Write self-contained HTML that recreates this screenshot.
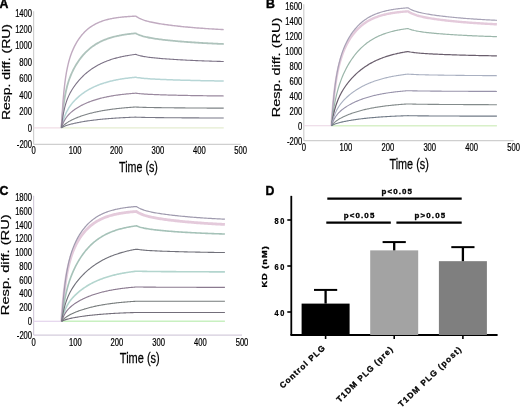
<!DOCTYPE html>
<html><head><meta charset="utf-8"><style>
html,body{margin:0;padding:0;background:#fff;}
svg{display:block;font-family:"Liberation Sans",sans-serif;will-change:transform;}
</style></head><body>
<svg width="520" height="407" viewBox="0 0 520 407">
<rect width="520" height="407" fill="#fff"/>
<line x1="33.60" y1="11.25" x2="33.60" y2="144.35" stroke="#cfcfcf" stroke-width="1.2"/>
<line x1="33.60" y1="144.35" x2="240.70" y2="144.35" stroke="#cfcfcf" stroke-width="1.2"/>
<text transform="translate(32.10,148.14) scale(0.742,1)" font-size="10.3" text-anchor="end" font-weight="normal" stroke="#000" stroke-width="0.22" fill="#000">-200</text>
<text transform="translate(32.10,131.69) scale(0.742,1)" font-size="10.3" text-anchor="end" font-weight="normal" stroke="#000" stroke-width="0.22" fill="#000">0</text>
<text transform="translate(32.10,115.24) scale(0.742,1)" font-size="10.3" text-anchor="end" font-weight="normal" stroke="#000" stroke-width="0.22" fill="#000">200</text>
<text transform="translate(32.10,98.79) scale(0.742,1)" font-size="10.3" text-anchor="end" font-weight="normal" stroke="#000" stroke-width="0.22" fill="#000">400</text>
<text transform="translate(32.10,82.34) scale(0.742,1)" font-size="10.3" text-anchor="end" font-weight="normal" stroke="#000" stroke-width="0.22" fill="#000">600</text>
<text transform="translate(32.10,65.89) scale(0.742,1)" font-size="10.3" text-anchor="end" font-weight="normal" stroke="#000" stroke-width="0.22" fill="#000">800</text>
<text transform="translate(32.10,49.44) scale(0.742,1)" font-size="10.3" text-anchor="end" font-weight="normal" stroke="#000" stroke-width="0.22" fill="#000">1000</text>
<text transform="translate(32.10,32.99) scale(0.742,1)" font-size="10.3" text-anchor="end" font-weight="normal" stroke="#000" stroke-width="0.22" fill="#000">1200</text>
<text transform="translate(32.10,16.54) scale(0.742,1)" font-size="10.3" text-anchor="end" font-weight="normal" stroke="#000" stroke-width="0.22" fill="#000">1400</text>
<text transform="translate(33.60,154.20) scale(0.742,1)" font-size="10.3" text-anchor="middle" font-weight="normal" stroke="#000" stroke-width="0.22" fill="#000">0</text>
<text transform="translate(75.02,154.20) scale(0.742,1)" font-size="10.3" text-anchor="middle" font-weight="normal" stroke="#000" stroke-width="0.22" fill="#000">100</text>
<text transform="translate(116.44,154.20) scale(0.742,1)" font-size="10.3" text-anchor="middle" font-weight="normal" stroke="#000" stroke-width="0.22" fill="#000">200</text>
<text transform="translate(157.86,154.20) scale(0.742,1)" font-size="10.3" text-anchor="middle" font-weight="normal" stroke="#000" stroke-width="0.22" fill="#000">300</text>
<text transform="translate(199.28,154.20) scale(0.742,1)" font-size="10.3" text-anchor="middle" font-weight="normal" stroke="#000" stroke-width="0.22" fill="#000">400</text>
<text transform="translate(240.70,154.20) scale(0.742,1)" font-size="10.3" text-anchor="middle" font-weight="normal" stroke="#000" stroke-width="0.22" fill="#000">500</text>
<text transform="translate(138.50,171.60) scale(0.775,1)" font-size="13.8" text-anchor="middle" font-weight="normal" stroke="#000" stroke-width="0.25" fill="#000">Time (s)</text>
<text transform="translate(9.80,120.10) scale(0.765,1) rotate(-90)" font-size="14.0" text-anchor="start" font-weight="normal" stroke="#000" stroke-width="0.25" fill="#000">Resp. diff. (RU)</text>
<line x1="33.60" y1="127.90" x2="61.39" y2="127.90" stroke="#f0dce4" stroke-width="1.2"/>
<line x1="61.39" y1="127.90" x2="223.72" y2="127.90" stroke="#e4ecd0" stroke-width="1.4"/>
<path d="M61.39,127.90 L61.39,127.90 L62.22,117.78 L63.04,109.70 L63.87,103.15 L64.70,97.76 L65.52,93.25 L66.35,89.41 L67.17,86.09 L68.00,83.17 L68.82,80.57 L69.65,78.22 L70.47,76.07 L71.30,74.09 L72.13,72.25 L72.95,70.52 L73.78,68.90 L74.60,67.37 L75.43,65.91 L76.25,64.52 L77.08,63.20 L77.91,61.94 L78.73,60.73 L79.56,59.57 L80.38,58.47 L81.21,57.40 L82.03,56.38 L82.86,55.41 L83.69,54.47 L84.51,53.56 L85.34,52.70 L86.16,51.87 L86.99,51.07 L87.81,50.30 L88.64,49.56 L89.46,48.85 L90.29,48.17 L91.12,47.52 L91.94,46.89 L92.77,46.29 L93.59,45.71 L94.42,45.15 L95.24,44.61 L96.07,44.10 L96.90,43.61 L97.72,43.13 L98.55,42.67 L99.37,42.23 L100.20,41.81 L101.02,41.41 L101.85,41.02 L102.67,40.64 L103.50,40.28 L104.33,39.94 L105.15,39.61 L105.98,39.29 L106.80,38.98 L107.63,38.69 L108.45,38.40 L109.28,38.13 L110.11,37.87 L110.93,37.62 L111.76,37.38 L112.58,37.15 L113.41,36.92 L114.23,36.71 L115.06,36.50 L115.88,36.31 L116.71,36.12 L117.54,35.93 L118.36,35.76 L119.19,35.59 L120.01,35.43 L120.84,35.27 L121.66,35.12 L122.49,34.98 L123.32,34.84 L124.14,34.71 L124.97,34.58 L125.79,34.46 L126.62,34.34 L127.44,34.23 L128.27,34.12 L129.10,34.01 L129.92,33.91 L130.75,33.82 L131.57,33.72 L132.40,33.64 L133.22,33.55 L134.05,33.47 L134.87,33.39 L135.70,33.31 L136.96,33.97 L138.22,34.54 L139.47,35.06 L140.73,35.51 L141.99,35.93 L143.24,36.30 L144.50,36.64 L145.76,36.95 L147.02,37.23 L148.27,37.50 L149.53,37.75 L150.79,37.98 L152.05,38.20 L153.30,38.41 L154.56,38.60 L155.82,38.79 L157.08,38.97 L158.33,39.14 L159.59,39.31 L160.85,39.47 L162.11,39.62 L163.36,39.77 L164.62,39.92 L165.88,40.06 L167.14,40.20 L168.39,40.33 L169.65,40.46 L170.91,40.59 L172.16,40.71 L173.42,40.83 L174.68,40.95 L175.94,41.07 L177.19,41.18 L178.45,41.29 L179.71,41.40 L180.97,41.50 L182.22,41.60 L183.48,41.70 L184.74,41.80 L186.00,41.90 L187.25,41.99 L188.51,42.09 L189.77,42.18 L191.03,42.26 L192.28,42.35 L193.54,42.43 L194.80,42.52 L196.06,42.60 L197.31,42.68 L198.57,42.76 L199.83,42.83 L201.08,42.91 L202.34,42.98 L203.60,43.05 L204.86,43.12 L206.11,43.19 L207.37,43.25 L208.63,43.32 L209.89,43.38 L211.14,43.45 L212.40,43.51 L213.66,43.57 L214.92,43.63 L216.17,43.68 L217.43,43.74 L218.69,43.80 L219.95,43.85 L221.20,43.90 L222.46,43.95 L223.72,44.00" fill="none" stroke="#aec3bc" stroke-width="1.8" stroke-linejoin="round"/>
<path d="M61.39,127.90 L61.39,127.90 L62.22,124.31 L63.04,121.24 L63.87,118.59 L64.70,116.28 L65.52,114.24 L66.35,112.42 L67.17,110.78 L68.00,109.29 L68.82,107.92 L69.65,106.66 L70.47,105.49 L71.30,104.39 L72.13,103.35 L72.95,102.37 L73.78,101.44 L74.60,100.55 L75.43,99.70 L76.25,98.88 L77.08,98.10 L77.91,97.35 L78.73,96.63 L79.56,95.93 L80.38,95.26 L81.21,94.61 L82.03,93.98 L82.86,93.38 L83.69,92.79 L84.51,92.22 L85.34,91.68 L86.16,91.14 L86.99,90.63 L87.81,90.13 L88.64,89.65 L89.46,89.19 L90.29,88.74 L91.12,88.30 L91.94,87.87 L92.77,87.47 L93.59,87.07 L94.42,86.68 L95.24,86.31 L96.07,85.95 L96.90,85.60 L97.72,85.26 L98.55,84.94 L99.37,84.62 L100.20,84.31 L101.02,84.01 L101.85,83.72 L102.67,83.45 L103.50,83.18 L104.33,82.91 L105.15,82.66 L105.98,82.41 L106.80,82.18 L107.63,81.94 L108.45,81.72 L109.28,81.50 L110.11,81.30 L110.93,81.09 L111.76,80.90 L112.58,80.71 L113.41,80.52 L114.23,80.34 L115.06,80.17 L115.88,80.00 L116.71,79.84 L117.54,79.68 L118.36,79.53 L119.19,79.38 L120.01,79.24 L120.84,79.10 L121.66,78.97 L122.49,78.84 L123.32,78.71 L124.14,78.59 L124.97,78.47 L125.79,78.36 L126.62,78.25 L127.44,78.14 L128.27,78.03 L129.10,77.93 L129.92,77.84 L130.75,77.74 L131.57,77.65 L132.40,77.56 L133.22,77.48 L134.05,77.39 L134.87,77.31 L135.70,77.23 L136.96,77.47 L138.22,77.67 L139.47,77.85 L140.73,78.01 L141.99,78.16 L143.24,78.29 L144.50,78.41 L145.76,78.52 L147.02,78.62 L148.27,78.72 L149.53,78.80 L150.79,78.89 L152.05,78.96 L153.30,79.04 L154.56,79.11 L155.82,79.17 L157.08,79.24 L158.33,79.30 L159.59,79.36 L160.85,79.41 L162.11,79.47 L163.36,79.52 L164.62,79.57 L165.88,79.62 L167.14,79.67 L168.39,79.72 L169.65,79.76 L170.91,79.81 L172.16,79.85 L173.42,79.90 L174.68,79.94 L175.94,79.98 L177.19,80.02 L178.45,80.06 L179.71,80.09 L180.97,80.13 L182.22,80.17 L183.48,80.20 L184.74,80.24 L186.00,80.27 L187.25,80.31 L188.51,80.34 L189.77,80.37 L191.03,80.40 L192.28,80.43 L193.54,80.46 L194.80,80.49 L196.06,80.52 L197.31,80.55 L198.57,80.58 L199.83,80.60 L201.08,80.63 L202.34,80.65 L203.60,80.68 L204.86,80.70 L206.11,80.73 L207.37,80.75 L208.63,80.78 L209.89,80.80 L211.14,80.82 L212.40,80.84 L213.66,80.86 L214.92,80.88 L216.17,80.90 L217.43,80.92 L218.69,80.94 L219.95,80.96 L221.20,80.98 L222.46,81.00 L223.72,81.02" fill="none" stroke="#b7d6d6" stroke-width="1.5" stroke-linejoin="round"/>
<path d="M61.39,127.90 L61.39,127.90 L62.22,112.98 L63.04,101.23 L63.87,91.86 L64.70,84.29 L65.52,78.09 L66.35,72.92 L67.17,68.55 L68.00,64.80 L68.82,61.53 L69.65,58.65 L70.47,56.07 L71.30,53.74 L72.13,51.61 L72.95,49.65 L73.78,47.84 L74.60,46.16 L75.43,44.58 L76.25,43.10 L77.08,41.71 L77.91,40.40 L78.73,39.16 L79.56,37.98 L80.38,36.87 L81.21,35.81 L82.03,34.81 L82.86,33.86 L83.69,32.96 L84.51,32.10 L85.34,31.28 L86.16,30.51 L86.99,29.77 L87.81,29.07 L88.64,28.40 L89.46,27.77 L90.29,27.16 L91.12,26.59 L91.94,26.04 L92.77,25.52 L93.59,25.03 L94.42,24.56 L95.24,24.11 L96.07,23.69 L96.90,23.28 L97.72,22.90 L98.55,22.53 L99.37,22.18 L100.20,21.85 L101.02,21.54 L101.85,21.24 L102.67,20.95 L103.50,20.68 L104.33,20.42 L105.15,20.17 L105.98,19.94 L106.80,19.72 L107.63,19.51 L108.45,19.30 L109.28,19.11 L110.11,18.93 L110.93,18.76 L111.76,18.59 L112.58,18.43 L113.41,18.28 L114.23,18.14 L115.06,18.01 L115.88,17.88 L116.71,17.76 L117.54,17.64 L118.36,17.53 L119.19,17.42 L120.01,17.32 L120.84,17.23 L121.66,17.14 L122.49,17.05 L123.32,16.97 L124.14,16.89 L124.97,16.82 L125.79,16.75 L126.62,16.68 L127.44,16.61 L128.27,16.55 L129.10,16.50 L129.92,16.44 L130.75,16.39 L131.57,16.34 L132.40,16.29 L133.22,16.25 L134.05,16.20 L134.87,16.16 L135.70,16.12 L136.96,16.95 L138.22,17.68 L139.47,18.32 L140.73,18.90 L141.99,19.42 L143.24,19.89 L144.50,20.32 L145.76,20.71 L147.02,21.07 L148.27,21.40 L149.53,21.72 L150.79,22.01 L152.05,22.29 L153.30,22.55 L154.56,22.80 L155.82,23.03 L157.08,23.26 L158.33,23.48 L159.59,23.69 L160.85,23.89 L162.11,24.09 L163.36,24.27 L164.62,24.46 L165.88,24.64 L167.14,24.81 L168.39,24.98 L169.65,25.14 L170.91,25.30 L172.16,25.46 L173.42,25.61 L174.68,25.76 L175.94,25.90 L177.19,26.05 L178.45,26.19 L179.71,26.32 L180.97,26.45 L182.22,26.58 L183.48,26.71 L184.74,26.83 L186.00,26.96 L187.25,27.07 L188.51,27.19 L189.77,27.30 L191.03,27.42 L192.28,27.52 L193.54,27.63 L194.80,27.73 L196.06,27.84 L197.31,27.94 L198.57,28.03 L199.83,28.13 L201.08,28.22 L202.34,28.32 L203.60,28.41 L204.86,28.49 L206.11,28.58 L207.37,28.66 L208.63,28.75 L209.89,28.83 L211.14,28.91 L212.40,28.98 L213.66,29.06 L214.92,29.13 L216.17,29.21 L217.43,29.28 L218.69,29.35 L219.95,29.42 L221.20,29.48 L222.46,29.55 L223.72,29.61" fill="none" stroke="#c0aac0" stroke-width="1.4" stroke-linejoin="round"/>
<path d="M61.39,127.90 L61.39,127.90 L62.22,125.47 L63.04,123.40 L63.87,121.62 L64.70,120.07 L65.52,118.70 L66.35,117.49 L67.17,116.39 L68.00,115.40 L68.82,114.49 L69.65,113.64 L70.47,112.86 L71.30,112.12 L72.13,111.43 L72.95,110.78 L73.78,110.15 L74.60,109.56 L75.43,108.99 L76.25,108.44 L77.08,107.91 L77.91,107.41 L78.73,106.92 L79.56,106.45 L80.38,105.99 L81.21,105.55 L82.03,105.12 L82.86,104.71 L83.69,104.31 L84.51,103.92 L85.34,103.54 L86.16,103.18 L86.99,102.82 L87.81,102.48 L88.64,102.15 L89.46,101.82 L90.29,101.51 L91.12,101.21 L91.94,100.91 L92.77,100.63 L93.59,100.35 L94.42,100.08 L95.24,99.82 L96.07,99.56 L96.90,99.32 L97.72,99.08 L98.55,98.85 L99.37,98.62 L100.20,98.40 L101.02,98.19 L101.85,97.98 L102.67,97.78 L103.50,97.59 L104.33,97.40 L105.15,97.22 L105.98,97.04 L106.80,96.87 L107.63,96.70 L108.45,96.54 L109.28,96.38 L110.11,96.23 L110.93,96.08 L111.76,95.94 L112.58,95.80 L113.41,95.66 L114.23,95.53 L115.06,95.40 L115.88,95.28 L116.71,95.16 L117.54,95.04 L118.36,94.93 L119.19,94.82 L120.01,94.71 L120.84,94.61 L121.66,94.51 L122.49,94.41 L123.32,94.32 L124.14,94.23 L124.97,94.14 L125.79,94.05 L126.62,93.97 L127.44,93.88 L128.27,93.81 L129.10,93.73 L129.92,93.65 L130.75,93.58 L131.57,93.51 L132.40,93.44 L133.22,93.38 L134.05,93.31 L134.87,93.25 L135.70,93.19 L136.96,93.36 L138.22,93.51 L139.47,93.65 L140.73,93.77 L141.99,93.87 L143.24,93.97 L144.50,94.06 L145.76,94.14 L147.02,94.22 L148.27,94.29 L149.53,94.35 L150.79,94.41 L152.05,94.47 L153.30,94.52 L154.56,94.57 L155.82,94.62 L157.08,94.67 L158.33,94.72 L159.59,94.76 L160.85,94.80 L162.11,94.84 L163.36,94.88 L164.62,94.92 L165.88,94.96 L167.14,94.99 L168.39,95.03 L169.65,95.06 L170.91,95.09 L172.16,95.13 L173.42,95.16 L174.68,95.19 L175.94,95.22 L177.19,95.25 L178.45,95.28 L179.71,95.30 L180.97,95.33 L182.22,95.36 L183.48,95.39 L184.74,95.41 L186.00,95.44 L187.25,95.46 L188.51,95.49 L189.77,95.51 L191.03,95.53 L192.28,95.55 L193.54,95.58 L194.80,95.60 L196.06,95.62 L197.31,95.64 L198.57,95.66 L199.83,95.68 L201.08,95.70 L202.34,95.72 L203.60,95.74 L204.86,95.76 L206.11,95.77 L207.37,95.79 L208.63,95.81 L209.89,95.82 L211.14,95.84 L212.40,95.86 L213.66,95.87 L214.92,95.89 L216.17,95.90 L217.43,95.92 L218.69,95.93 L219.95,95.95 L221.20,95.96 L222.46,95.97 L223.72,95.99" fill="none" stroke="#9a899f" stroke-width="1.2" stroke-linejoin="round"/>
<path d="M61.39,127.90 L61.39,127.90 L62.22,121.13 L63.04,115.70 L63.87,111.27 L64.70,107.61 L65.52,104.52 L66.35,101.86 L67.17,99.54 L68.00,97.49 L68.82,95.63 L69.65,93.94 L70.47,92.37 L71.30,90.92 L72.13,89.55 L72.95,88.25 L73.78,87.02 L74.60,85.84 L75.43,84.71 L76.25,83.63 L77.08,82.59 L77.91,81.59 L78.73,80.62 L79.56,79.69 L80.38,78.78 L81.21,77.91 L82.03,77.06 L82.86,76.25 L83.69,75.46 L84.51,74.69 L85.34,73.95 L86.16,73.23 L86.99,72.54 L87.81,71.86 L88.64,71.21 L89.46,70.58 L90.29,69.97 L91.12,69.38 L91.94,68.80 L92.77,68.25 L93.59,67.71 L94.42,67.19 L95.24,66.68 L96.07,66.19 L96.90,65.72 L97.72,65.26 L98.55,64.82 L99.37,64.39 L100.20,63.97 L101.02,63.56 L101.85,63.17 L102.67,62.79 L103.50,62.43 L104.33,62.07 L105.15,61.73 L105.98,61.39 L106.80,61.07 L107.63,60.76 L108.45,60.46 L109.28,60.16 L110.11,59.88 L110.93,59.60 L111.76,59.34 L112.58,59.08 L113.41,58.83 L114.23,58.58 L115.06,58.35 L115.88,58.12 L116.71,57.90 L117.54,57.69 L118.36,57.48 L119.19,57.28 L120.01,57.09 L120.84,56.90 L121.66,56.72 L122.49,56.54 L123.32,56.37 L124.14,56.21 L124.97,56.05 L125.79,55.89 L126.62,55.74 L127.44,55.59 L128.27,55.45 L129.10,55.32 L129.92,55.19 L130.75,55.06 L131.57,54.93 L132.40,54.81 L133.22,54.70 L134.05,54.58 L134.87,54.47 L135.70,54.37 L136.96,54.81 L138.22,55.19 L139.47,55.54 L140.73,55.84 L141.99,56.12 L143.24,56.37 L144.50,56.59 L145.76,56.80 L147.02,56.99 L148.27,57.17 L149.53,57.34 L150.79,57.49 L152.05,57.64 L153.30,57.78 L154.56,57.91 L155.82,58.03 L157.08,58.16 L158.33,58.27 L159.59,58.38 L160.85,58.49 L162.11,58.59 L163.36,58.69 L164.62,58.79 L165.88,58.88 L167.14,58.98 L168.39,59.07 L169.65,59.15 L170.91,59.24 L172.16,59.32 L173.42,59.40 L174.68,59.48 L175.94,59.56 L177.19,59.63 L178.45,59.71 L179.71,59.78 L180.97,59.85 L182.22,59.92 L183.48,59.99 L184.74,60.05 L186.00,60.12 L187.25,60.18 L188.51,60.24 L189.77,60.30 L191.03,60.36 L192.28,60.42 L193.54,60.47 L194.80,60.53 L196.06,60.58 L197.31,60.64 L198.57,60.69 L199.83,60.74 L201.08,60.79 L202.34,60.84 L203.60,60.88 L204.86,60.93 L206.11,60.98 L207.37,61.02 L208.63,61.07 L209.89,61.11 L211.14,61.15 L212.40,61.19 L213.66,61.23 L214.92,61.27 L216.17,61.31 L217.43,61.35 L218.69,61.38 L219.95,61.42 L221.20,61.46 L222.46,61.49 L223.72,61.52" fill="none" stroke="#7d7387" stroke-width="1.1" stroke-linejoin="round"/>
<path d="M61.39,127.90 L61.39,127.90 L62.22,126.89 L63.04,125.99 L63.87,125.19 L64.70,124.46 L65.52,123.80 L66.35,123.19 L67.17,122.62 L68.00,122.09 L68.82,121.59 L69.65,121.12 L70.47,120.67 L71.30,120.23 L72.13,119.82 L72.95,119.42 L73.78,119.04 L74.60,118.67 L75.43,118.31 L76.25,117.96 L77.08,117.62 L77.91,117.30 L78.73,116.98 L79.56,116.67 L80.38,116.37 L81.21,116.08 L82.03,115.79 L82.86,115.52 L83.69,115.25 L84.51,114.98 L85.34,114.73 L86.16,114.48 L86.99,114.24 L87.81,114.00 L88.64,113.77 L89.46,113.55 L90.29,113.33 L91.12,113.11 L91.94,112.91 L92.77,112.70 L93.59,112.51 L94.42,112.32 L95.24,112.13 L96.07,111.95 L96.90,111.77 L97.72,111.60 L98.55,111.43 L99.37,111.26 L100.20,111.10 L101.02,110.95 L101.85,110.80 L102.67,110.65 L103.50,110.50 L104.33,110.36 L105.15,110.23 L105.98,110.09 L106.80,109.96 L107.63,109.84 L108.45,109.71 L109.28,109.59 L110.11,109.47 L110.93,109.36 L111.76,109.25 L112.58,109.14 L113.41,109.03 L114.23,108.93 L115.06,108.83 L115.88,108.73 L116.71,108.64 L117.54,108.55 L118.36,108.45 L119.19,108.37 L120.01,108.28 L120.84,108.20 L121.66,108.12 L122.49,108.04 L123.32,107.96 L124.14,107.88 L124.97,107.81 L125.79,107.74 L126.62,107.67 L127.44,107.60 L128.27,107.53 L129.10,107.47 L129.92,107.41 L130.75,107.34 L131.57,107.29 L132.40,107.23 L133.22,107.17 L134.05,107.11 L134.87,107.06 L135.70,107.01 L136.96,107.08 L138.22,107.14 L139.47,107.20 L140.73,107.25 L141.99,107.29 L143.24,107.33 L144.50,107.37 L145.76,107.40 L147.02,107.43 L148.27,107.46 L149.53,107.49 L150.79,107.51 L152.05,107.53 L153.30,107.56 L154.56,107.58 L155.82,107.60 L157.08,107.62 L158.33,107.64 L159.59,107.65 L160.85,107.67 L162.11,107.69 L163.36,107.70 L164.62,107.72 L165.88,107.74 L167.14,107.75 L168.39,107.76 L169.65,107.78 L170.91,107.79 L172.16,107.81 L173.42,107.82 L174.68,107.83 L175.94,107.84 L177.19,107.86 L178.45,107.87 L179.71,107.88 L180.97,107.89 L182.22,107.90 L183.48,107.91 L184.74,107.92 L186.00,107.93 L187.25,107.94 L188.51,107.95 L189.77,107.96 L191.03,107.97 L192.28,107.98 L193.54,107.99 L194.80,108.00 L196.06,108.01 L197.31,108.02 L198.57,108.03 L199.83,108.03 L201.08,108.04 L202.34,108.05 L203.60,108.06 L204.86,108.06 L206.11,108.07 L207.37,108.08 L208.63,108.09 L209.89,108.09 L211.14,108.10 L212.40,108.11 L213.66,108.11 L214.92,108.12 L216.17,108.13 L217.43,108.13 L218.69,108.14 L219.95,108.14 L221.20,108.15 L222.46,108.15 L223.72,108.16" fill="none" stroke="#7e8386" stroke-width="1.1" stroke-linejoin="round"/>
<path d="M61.39,127.90 L61.39,127.90 L62.22,127.39 L63.04,126.94 L63.87,126.53 L64.70,126.17 L65.52,125.84 L66.35,125.54 L67.17,125.25 L68.00,124.99 L68.82,124.74 L69.65,124.50 L70.47,124.28 L71.30,124.06 L72.13,123.86 L72.95,123.66 L73.78,123.47 L74.60,123.28 L75.43,123.10 L76.25,122.92 L77.08,122.75 L77.91,122.59 L78.73,122.43 L79.56,122.27 L80.38,122.12 L81.21,121.97 L82.03,121.83 L82.86,121.68 L83.69,121.55 L84.51,121.41 L85.34,121.28 L86.16,121.15 L86.99,121.03 L87.81,120.90 L88.64,120.79 L89.46,120.67 L90.29,120.56 L91.12,120.45 L91.94,120.34 L92.77,120.23 L93.59,120.13 L94.42,120.03 L95.24,119.93 L96.07,119.83 L96.90,119.74 L97.72,119.65 L98.55,119.56 L99.37,119.47 L100.20,119.39 L101.02,119.30 L101.85,119.22 L102.67,119.14 L103.50,119.06 L104.33,118.99 L105.15,118.92 L105.98,118.84 L106.80,118.77 L107.63,118.70 L108.45,118.64 L109.28,118.57 L110.11,118.51 L110.93,118.45 L111.76,118.38 L112.58,118.33 L113.41,118.27 L114.23,118.21 L115.06,118.15 L115.88,118.10 L116.71,118.05 L117.54,118.00 L118.36,117.95 L119.19,117.90 L120.01,117.85 L120.84,117.80 L121.66,117.76 L122.49,117.71 L123.32,117.67 L124.14,117.63 L124.97,117.58 L125.79,117.54 L126.62,117.50 L127.44,117.47 L128.27,117.43 L129.10,117.39 L129.92,117.35 L130.75,117.32 L131.57,117.29 L132.40,117.25 L133.22,117.22 L134.05,117.19 L134.87,117.16 L135.70,117.13 L136.96,117.18 L138.22,117.23 L139.47,117.27 L140.73,117.31 L141.99,117.35 L143.24,117.38 L144.50,117.41 L145.76,117.43 L147.02,117.46 L148.27,117.48 L149.53,117.50 L150.79,117.52 L152.05,117.54 L153.30,117.56 L154.56,117.57 L155.82,117.59 L157.08,117.60 L158.33,117.62 L159.59,117.63 L160.85,117.65 L162.11,117.66 L163.36,117.67 L164.62,117.68 L165.88,117.70 L167.14,117.71 L168.39,117.72 L169.65,117.73 L170.91,117.74 L172.16,117.75 L173.42,117.76 L174.68,117.77 L175.94,117.78 L177.19,117.79 L178.45,117.80 L179.71,117.81 L180.97,117.82 L182.22,117.83 L183.48,117.84 L184.74,117.84 L186.00,117.85 L187.25,117.86 L188.51,117.87 L189.77,117.88 L191.03,117.88 L192.28,117.89 L193.54,117.90 L194.80,117.90 L196.06,117.91 L197.31,117.92 L198.57,117.92 L199.83,117.93 L201.08,117.94 L202.34,117.94 L203.60,117.95 L204.86,117.96 L206.11,117.96 L207.37,117.97 L208.63,117.97 L209.89,117.98 L211.14,117.98 L212.40,117.99 L213.66,117.99 L214.92,118.00 L216.17,118.00 L217.43,118.01 L218.69,118.01 L219.95,118.02 L221.20,118.02 L222.46,118.03 L223.72,118.03" fill="none" stroke="#797987" stroke-width="1.1" stroke-linejoin="round"/>
<line x1="303.80" y1="4.20" x2="303.80" y2="140.70" stroke="#cfcfcf" stroke-width="1.2"/>
<line x1="303.80" y1="140.70" x2="513.70" y2="140.70" stroke="#cfcfcf" stroke-width="1.2"/>
<text transform="translate(302.30,144.79) scale(0.742,1)" font-size="10.3" text-anchor="end" font-weight="normal" stroke="#000" stroke-width="0.22" fill="#000">-200</text>
<text transform="translate(302.30,129.79) scale(0.742,1)" font-size="10.3" text-anchor="end" font-weight="normal" stroke="#000" stroke-width="0.22" fill="#000">0</text>
<text transform="translate(302.30,114.79) scale(0.742,1)" font-size="10.3" text-anchor="end" font-weight="normal" stroke="#000" stroke-width="0.22" fill="#000">200</text>
<text transform="translate(302.30,99.79) scale(0.742,1)" font-size="10.3" text-anchor="end" font-weight="normal" stroke="#000" stroke-width="0.22" fill="#000">400</text>
<text transform="translate(302.30,84.79) scale(0.742,1)" font-size="10.3" text-anchor="end" font-weight="normal" stroke="#000" stroke-width="0.22" fill="#000">600</text>
<text transform="translate(302.30,69.79) scale(0.742,1)" font-size="10.3" text-anchor="end" font-weight="normal" stroke="#000" stroke-width="0.22" fill="#000">800</text>
<text transform="translate(302.30,54.79) scale(0.742,1)" font-size="10.3" text-anchor="end" font-weight="normal" stroke="#000" stroke-width="0.22" fill="#000">1000</text>
<text transform="translate(302.30,39.79) scale(0.742,1)" font-size="10.3" text-anchor="end" font-weight="normal" stroke="#000" stroke-width="0.22" fill="#000">1200</text>
<text transform="translate(302.30,24.79) scale(0.742,1)" font-size="10.3" text-anchor="end" font-weight="normal" stroke="#000" stroke-width="0.22" fill="#000">1400</text>
<text transform="translate(302.30,9.79) scale(0.742,1)" font-size="10.3" text-anchor="end" font-weight="normal" stroke="#000" stroke-width="0.22" fill="#000">1600</text>
<text transform="translate(303.80,151.00) scale(0.742,1)" font-size="10.3" text-anchor="middle" font-weight="normal" stroke="#000" stroke-width="0.22" fill="#000">0</text>
<text transform="translate(345.78,151.00) scale(0.742,1)" font-size="10.3" text-anchor="middle" font-weight="normal" stroke="#000" stroke-width="0.22" fill="#000">100</text>
<text transform="translate(387.76,151.00) scale(0.742,1)" font-size="10.3" text-anchor="middle" font-weight="normal" stroke="#000" stroke-width="0.22" fill="#000">200</text>
<text transform="translate(429.74,151.00) scale(0.742,1)" font-size="10.3" text-anchor="middle" font-weight="normal" stroke="#000" stroke-width="0.22" fill="#000">300</text>
<text transform="translate(471.72,151.00) scale(0.742,1)" font-size="10.3" text-anchor="middle" font-weight="normal" stroke="#000" stroke-width="0.22" fill="#000">400</text>
<text transform="translate(513.70,151.00) scale(0.742,1)" font-size="10.3" text-anchor="middle" font-weight="normal" stroke="#000" stroke-width="0.22" fill="#000">500</text>
<text transform="translate(409.10,169.20) scale(0.775,1)" font-size="14" text-anchor="middle" font-weight="normal" stroke="#000" stroke-width="0.25" fill="#000">Time (s)</text>
<text transform="translate(279.50,117.30) scale(0.700,1) rotate(-90)" font-size="14.49" text-anchor="start" font-weight="normal" stroke="#000" stroke-width="0.25" fill="#000">Resp. diff. (RU)</text>
<line x1="303.80" y1="125.70" x2="331.51" y2="125.70" stroke="#eedce8" stroke-width="1.2"/>
<line x1="331.51" y1="125.70" x2="496.91" y2="125.70" stroke="#d8f0c8" stroke-width="1.4"/>
<path d="M331.51,125.70 L331.51,125.70 L332.36,113.70 L333.20,103.72 L334.05,95.35 L334.90,88.27 L335.75,82.22 L336.60,77.01 L337.45,72.47 L338.30,68.47 L339.15,64.93 L340.00,61.75 L340.85,58.88 L341.69,56.27 L342.54,53.87 L343.39,51.67 L344.24,49.62 L345.09,47.71 L345.94,45.92 L346.79,44.24 L347.64,42.66 L348.49,41.17 L349.33,39.76 L350.18,38.42 L351.03,37.15 L351.88,35.94 L352.73,34.79 L353.58,33.69 L354.43,32.64 L355.28,31.65 L356.13,30.69 L356.97,29.79 L357.82,28.92 L358.67,28.09 L359.52,27.30 L360.37,26.54 L361.22,25.82 L362.07,25.12 L362.92,24.46 L363.77,23.83 L364.62,23.23 L365.46,22.65 L366.31,22.10 L367.16,21.57 L368.01,21.06 L368.86,20.58 L369.71,20.11 L370.56,19.67 L371.41,19.25 L372.26,18.84 L373.10,18.46 L373.95,18.09 L374.80,17.73 L375.65,17.40 L376.50,17.07 L377.35,16.76 L378.20,16.47 L379.05,16.18 L379.90,15.91 L380.74,15.65 L381.59,15.40 L382.44,15.17 L383.29,14.94 L384.14,14.72 L384.99,14.51 L385.84,14.32 L386.69,14.13 L387.54,13.94 L388.39,13.77 L389.23,13.60 L390.08,13.45 L390.93,13.29 L391.78,13.15 L392.63,13.01 L393.48,12.88 L394.33,12.75 L395.18,12.63 L396.03,12.51 L396.87,12.40 L397.72,12.29 L398.57,12.19 L399.42,12.09 L400.27,12.00 L401.12,11.91 L401.97,11.83 L402.82,11.74 L403.67,11.67 L404.51,11.59 L405.36,11.52 L406.21,11.45 L407.06,11.39 L407.91,11.33 L409.18,12.12 L410.45,12.82 L411.72,13.44 L413.00,13.99 L414.27,14.49 L415.54,14.94 L416.81,15.36 L418.08,15.73 L419.35,16.08 L420.62,16.40 L421.90,16.70 L423.17,16.98 L424.44,17.25 L425.71,17.50 L426.98,17.74 L428.25,17.97 L429.52,18.19 L430.80,18.40 L432.07,18.60 L433.34,18.79 L434.61,18.98 L435.88,19.16 L437.15,19.34 L438.42,19.51 L439.70,19.68 L440.97,19.84 L442.24,20.00 L443.51,20.15 L444.78,20.30 L446.05,20.45 L447.32,20.59 L448.60,20.73 L449.87,20.87 L451.14,21.00 L452.41,21.13 L453.68,21.26 L454.95,21.38 L456.22,21.51 L457.49,21.63 L458.77,21.74 L460.04,21.86 L461.31,21.97 L462.58,22.08 L463.85,22.18 L465.12,22.29 L466.39,22.39 L467.67,22.49 L468.94,22.59 L470.21,22.69 L471.48,22.78 L472.75,22.87 L474.02,22.96 L475.29,23.05 L476.57,23.14 L477.84,23.22 L479.11,23.31 L480.38,23.39 L481.65,23.47 L482.92,23.54 L484.19,23.62 L485.47,23.70 L486.74,23.77 L488.01,23.84 L489.28,23.91 L490.55,23.98 L491.82,24.05 L493.09,24.11 L494.37,24.18 L495.64,24.24 L496.91,24.30" fill="none" stroke="#e4cadb" stroke-width="2.4" stroke-linejoin="round"/>
<path d="M331.51,125.70 L331.51,125.70 L332.36,113.33 L333.20,103.04 L334.05,94.41 L334.90,87.12 L335.75,80.88 L336.60,75.51 L337.45,70.83 L338.30,66.71 L339.15,63.05 L340.00,59.78 L340.85,56.82 L341.69,54.13 L342.54,51.66 L343.39,49.38 L344.24,47.27 L345.09,45.31 L345.94,43.46 L346.79,41.73 L347.64,40.11 L348.49,38.57 L349.33,37.11 L350.18,35.73 L351.03,34.42 L351.88,33.17 L352.73,31.98 L353.58,30.85 L354.43,29.78 L355.28,28.75 L356.13,27.77 L356.97,26.83 L357.82,25.94 L358.67,25.08 L359.52,24.26 L360.37,23.48 L361.22,22.74 L362.07,22.02 L362.92,21.34 L363.77,20.69 L364.62,20.07 L365.46,19.47 L366.31,18.90 L367.16,18.36 L368.01,17.84 L368.86,17.34 L369.71,16.86 L370.56,16.40 L371.41,15.97 L372.26,15.55 L373.10,15.15 L373.95,14.77 L374.80,14.41 L375.65,14.06 L376.50,13.72 L377.35,13.40 L378.20,13.10 L379.05,12.81 L379.90,12.53 L380.74,12.26 L381.59,12.00 L382.44,11.76 L383.29,11.53 L384.14,11.30 L384.99,11.09 L385.84,10.88 L386.69,10.69 L387.54,10.50 L388.39,10.32 L389.23,10.15 L390.08,9.99 L390.93,9.83 L391.78,9.68 L392.63,9.54 L393.48,9.40 L394.33,9.27 L395.18,9.14 L396.03,9.02 L396.87,8.91 L397.72,8.80 L398.57,8.69 L399.42,8.59 L400.27,8.50 L401.12,8.40 L401.97,8.32 L402.82,8.23 L403.67,8.15 L404.51,8.08 L405.36,8.00 L406.21,7.93 L407.06,7.86 L407.91,7.80 L409.18,8.57 L410.45,9.24 L411.72,9.84 L413.00,10.38 L414.27,10.86 L415.54,11.29 L416.81,11.69 L418.08,12.05 L419.35,12.39 L420.62,12.70 L421.90,12.99 L423.17,13.26 L424.44,13.52 L425.71,13.76 L426.98,13.99 L428.25,14.21 L429.52,14.42 L430.80,14.63 L432.07,14.82 L433.34,15.01 L434.61,15.19 L435.88,15.37 L437.15,15.54 L438.42,15.70 L439.70,15.86 L440.97,16.02 L442.24,16.17 L443.51,16.32 L444.78,16.47 L446.05,16.61 L447.32,16.75 L448.60,16.88 L449.87,17.01 L451.14,17.14 L452.41,17.27 L453.68,17.39 L454.95,17.51 L456.22,17.63 L457.49,17.74 L458.77,17.86 L460.04,17.97 L461.31,18.07 L462.58,18.18 L463.85,18.28 L465.12,18.38 L466.39,18.48 L467.67,18.58 L468.94,18.68 L470.21,18.77 L471.48,18.86 L472.75,18.95 L474.02,19.04 L475.29,19.12 L476.57,19.20 L477.84,19.29 L479.11,19.37 L480.38,19.44 L481.65,19.52 L482.92,19.60 L484.19,19.67 L485.47,19.74 L486.74,19.81 L488.01,19.88 L489.28,19.95 L490.55,20.01 L491.82,20.08 L493.09,20.14 L494.37,20.20 L495.64,20.27 L496.91,20.33" fill="none" stroke="#a7a2b6" stroke-width="1.2" stroke-linejoin="round"/>
<path d="M331.51,125.70 L331.51,125.70 L332.36,118.51 L333.20,112.36 L334.05,107.04 L334.90,102.38 L335.75,98.27 L336.60,94.60 L337.45,91.29 L338.30,88.27 L339.15,85.51 L340.00,82.96 L340.85,80.59 L341.69,78.37 L342.54,76.28 L343.39,74.31 L344.24,72.44 L345.09,70.67 L345.94,68.98 L346.79,67.37 L347.64,65.82 L348.49,64.35 L349.33,62.93 L350.18,61.57 L351.03,60.26 L351.88,59.00 L352.73,57.79 L353.58,56.63 L354.43,55.51 L355.28,54.43 L356.13,53.39 L356.97,52.39 L357.82,51.42 L358.67,50.50 L359.52,49.60 L360.37,48.74 L361.22,47.90 L362.07,47.10 L362.92,46.33 L363.77,45.58 L364.62,44.86 L365.46,44.17 L366.31,43.50 L367.16,42.85 L368.01,42.23 L368.86,41.63 L369.71,41.06 L370.56,40.50 L371.41,39.96 L372.26,39.44 L373.10,38.94 L373.95,38.46 L374.80,38.00 L375.65,37.55 L376.50,37.12 L377.35,36.70 L378.20,36.30 L379.05,35.91 L379.90,35.54 L380.74,35.18 L381.59,34.83 L382.44,34.50 L383.29,34.18 L384.14,33.86 L384.99,33.56 L385.84,33.28 L386.69,33.00 L387.54,32.73 L388.39,32.47 L389.23,32.22 L390.08,31.98 L390.93,31.74 L391.78,31.52 L392.63,31.30 L393.48,31.10 L394.33,30.89 L395.18,30.70 L396.03,30.51 L396.87,30.33 L397.72,30.16 L398.57,29.99 L399.42,29.83 L400.27,29.67 L401.12,29.52 L401.97,29.38 L402.82,29.24 L403.67,29.10 L404.51,28.97 L405.36,28.85 L406.21,28.73 L407.06,28.61 L407.91,28.50 L409.18,29.00 L410.45,29.44 L411.72,29.83 L413.00,30.18 L414.27,30.50 L415.54,30.78 L416.81,31.04 L418.08,31.28 L419.35,31.50 L420.62,31.70 L421.90,31.89 L423.17,32.07 L424.44,32.23 L425.71,32.39 L426.98,32.54 L428.25,32.69 L429.52,32.82 L430.80,32.96 L432.07,33.08 L433.34,33.21 L434.61,33.32 L435.88,33.44 L437.15,33.55 L438.42,33.66 L439.70,33.76 L440.97,33.86 L442.24,33.96 L443.51,34.06 L444.78,34.16 L446.05,34.25 L447.32,34.34 L448.60,34.43 L449.87,34.51 L451.14,34.60 L452.41,34.68 L453.68,34.76 L454.95,34.84 L456.22,34.91 L457.49,34.99 L458.77,35.06 L460.04,35.14 L461.31,35.21 L462.58,35.27 L463.85,35.34 L465.12,35.41 L466.39,35.47 L467.67,35.54 L468.94,35.60 L470.21,35.66 L471.48,35.72 L472.75,35.78 L474.02,35.83 L475.29,35.89 L476.57,35.94 L477.84,36.00 L479.11,36.05 L480.38,36.10 L481.65,36.15 L482.92,36.20 L484.19,36.25 L485.47,36.29 L486.74,36.34 L488.01,36.39 L489.28,36.43 L490.55,36.47 L491.82,36.51 L493.09,36.56 L494.37,36.60 L495.64,36.64 L496.91,36.68" fill="none" stroke="#9bb6aa" stroke-width="1.2" stroke-linejoin="round"/>
<path d="M331.51,125.70 L331.51,125.70 L332.36,120.49 L333.20,116.07 L334.05,112.26 L334.90,108.96 L335.75,106.06 L336.60,103.48 L337.45,101.17 L338.30,99.06 L339.15,97.14 L340.00,95.36 L340.85,93.70 L341.69,92.15 L342.54,90.69 L343.39,89.30 L344.24,87.98 L345.09,86.72 L345.94,85.51 L346.79,84.36 L347.64,83.24 L348.49,82.16 L349.33,81.13 L350.18,80.12 L351.03,79.15 L351.88,78.21 L352.73,77.30 L353.58,76.42 L354.43,75.57 L355.28,74.74 L356.13,73.93 L356.97,73.15 L357.82,72.40 L358.67,71.66 L359.52,70.95 L360.37,70.26 L361.22,69.59 L362.07,68.93 L362.92,68.30 L363.77,67.68 L364.62,67.09 L365.46,66.51 L366.31,65.94 L367.16,65.40 L368.01,64.87 L368.86,64.35 L369.71,63.85 L370.56,63.36 L371.41,62.89 L372.26,62.43 L373.10,61.99 L373.95,61.56 L374.80,61.14 L375.65,60.73 L376.50,60.33 L377.35,59.95 L378.20,59.58 L379.05,59.21 L379.90,58.86 L380.74,58.52 L381.59,58.19 L382.44,57.86 L383.29,57.55 L384.14,57.25 L384.99,56.95 L385.84,56.67 L386.69,56.39 L387.54,56.12 L388.39,55.85 L389.23,55.60 L390.08,55.35 L390.93,55.11 L391.78,54.88 L392.63,54.65 L393.48,54.43 L394.33,54.22 L395.18,54.01 L396.03,53.81 L396.87,53.61 L397.72,53.42 L398.57,53.24 L399.42,53.06 L400.27,52.88 L401.12,52.71 L401.97,52.55 L402.82,52.39 L403.67,52.23 L404.51,52.08 L405.36,51.94 L406.21,51.80 L407.06,51.66 L407.91,51.53 L409.18,51.79 L410.45,52.03 L411.72,52.23 L413.00,52.42 L414.27,52.59 L415.54,52.74 L416.81,52.88 L418.08,53.00 L419.35,53.12 L420.62,53.23 L421.90,53.33 L423.17,53.42 L424.44,53.51 L425.71,53.60 L426.98,53.68 L428.25,53.75 L429.52,53.83 L430.80,53.90 L432.07,53.96 L433.34,54.03 L434.61,54.09 L435.88,54.15 L437.15,54.21 L438.42,54.27 L439.70,54.33 L440.97,54.38 L442.24,54.43 L443.51,54.48 L444.78,54.53 L446.05,54.58 L447.32,54.63 L448.60,54.68 L449.87,54.72 L451.14,54.77 L452.41,54.81 L453.68,54.86 L454.95,54.90 L456.22,54.94 L457.49,54.98 L458.77,55.02 L460.04,55.06 L461.31,55.09 L462.58,55.13 L463.85,55.17 L465.12,55.20 L466.39,55.24 L467.67,55.27 L468.94,55.30 L470.21,55.33 L471.48,55.37 L472.75,55.40 L474.02,55.43 L475.29,55.46 L476.57,55.49 L477.84,55.51 L479.11,55.54 L480.38,55.57 L481.65,55.60 L482.92,55.62 L484.19,55.65 L485.47,55.67 L486.74,55.70 L488.01,55.72 L489.28,55.74 L490.55,55.77 L491.82,55.79 L493.09,55.81 L494.37,55.83 L495.64,55.85 L496.91,55.88" fill="none" stroke="#6a5e6d" stroke-width="1.2" stroke-linejoin="round"/>
<path d="M331.51,125.70 L331.51,125.70 L332.36,122.10 L333.20,119.04 L334.05,116.42 L334.90,114.15 L335.75,112.15 L336.60,110.38 L337.45,108.79 L338.30,107.35 L339.15,106.03 L340.00,104.81 L340.85,103.67 L341.69,102.61 L342.54,101.60 L343.39,100.65 L344.24,99.74 L345.09,98.88 L345.94,98.05 L346.79,97.25 L347.64,96.48 L348.49,95.74 L349.33,95.02 L350.18,94.33 L351.03,93.66 L351.88,93.01 L352.73,92.38 L353.58,91.77 L354.43,91.17 L355.28,90.60 L356.13,90.04 L356.97,89.50 L357.82,88.97 L358.67,88.46 L359.52,87.96 L360.37,87.48 L361.22,87.01 L362.07,86.55 L362.92,86.10 L363.77,85.67 L364.62,85.25 L365.46,84.85 L366.31,84.45 L367.16,84.06 L368.01,83.69 L368.86,83.33 L369.71,82.97 L370.56,82.63 L371.41,82.29 L372.26,81.97 L373.10,81.65 L373.95,81.35 L374.80,81.05 L375.65,80.76 L376.50,80.48 L377.35,80.20 L378.20,79.94 L379.05,79.68 L379.90,79.42 L380.74,79.18 L381.59,78.94 L382.44,78.71 L383.29,78.49 L384.14,78.27 L384.99,78.05 L385.84,77.85 L386.69,77.65 L387.54,77.45 L388.39,77.26 L389.23,77.08 L390.08,76.90 L390.93,76.72 L391.78,76.55 L392.63,76.39 L393.48,76.23 L394.33,76.07 L395.18,75.92 L396.03,75.78 L396.87,75.63 L397.72,75.49 L398.57,75.36 L399.42,75.23 L400.27,75.10 L401.12,74.98 L401.97,74.86 L402.82,74.74 L403.67,74.62 L404.51,74.51 L405.36,74.41 L406.21,74.30 L407.06,74.20 L407.91,74.10 L409.18,74.20 L410.45,74.28 L411.72,74.36 L413.00,74.42 L414.27,74.48 L415.54,74.54 L416.81,74.59 L418.08,74.63 L419.35,74.68 L420.62,74.72 L421.90,74.75 L423.17,74.79 L424.44,74.82 L425.71,74.85 L426.98,74.88 L428.25,74.91 L429.52,74.93 L430.80,74.96 L432.07,74.98 L433.34,75.01 L434.61,75.03 L435.88,75.05 L437.15,75.07 L438.42,75.09 L439.70,75.11 L440.97,75.13 L442.24,75.15 L443.51,75.17 L444.78,75.19 L446.05,75.21 L447.32,75.22 L448.60,75.24 L449.87,75.26 L451.14,75.27 L452.41,75.29 L453.68,75.31 L454.95,75.32 L456.22,75.34 L457.49,75.35 L458.77,75.36 L460.04,75.38 L461.31,75.39 L462.58,75.41 L463.85,75.42 L465.12,75.43 L466.39,75.44 L467.67,75.46 L468.94,75.47 L470.21,75.48 L471.48,75.49 L472.75,75.50 L474.02,75.51 L475.29,75.52 L476.57,75.53 L477.84,75.54 L479.11,75.55 L480.38,75.56 L481.65,75.57 L482.92,75.58 L484.19,75.59 L485.47,75.60 L486.74,75.61 L488.01,75.62 L489.28,75.63 L490.55,75.64 L491.82,75.64 L493.09,75.65 L494.37,75.66 L495.64,75.67 L496.91,75.68" fill="none" stroke="#a9b0c1" stroke-width="1.1" stroke-linejoin="round"/>
<path d="M331.51,125.70 L331.51,125.70 L332.36,123.26 L333.20,121.18 L334.05,119.40 L334.90,117.86 L335.75,116.50 L336.60,115.30 L337.45,114.22 L338.30,113.24 L339.15,112.35 L340.00,111.52 L340.85,110.75 L341.69,110.02 L342.54,109.34 L343.39,108.70 L344.24,108.08 L345.09,107.49 L345.94,106.93 L346.79,106.39 L347.64,105.87 L348.49,105.36 L349.33,104.88 L350.18,104.41 L351.03,103.95 L351.88,103.51 L352.73,103.08 L353.58,102.67 L354.43,102.26 L355.28,101.87 L356.13,101.49 L356.97,101.13 L357.82,100.77 L358.67,100.42 L359.52,100.08 L360.37,99.75 L361.22,99.43 L362.07,99.12 L362.92,98.82 L363.77,98.53 L364.62,98.25 L365.46,97.97 L366.31,97.70 L367.16,97.44 L368.01,97.18 L368.86,96.94 L369.71,96.70 L370.56,96.46 L371.41,96.24 L372.26,96.02 L373.10,95.80 L373.95,95.59 L374.80,95.39 L375.65,95.19 L376.50,95.00 L377.35,94.82 L378.20,94.64 L379.05,94.46 L379.90,94.29 L380.74,94.12 L381.59,93.96 L382.44,93.80 L383.29,93.65 L384.14,93.50 L384.99,93.36 L385.84,93.22 L386.69,93.08 L387.54,92.95 L388.39,92.82 L389.23,92.70 L390.08,92.57 L390.93,92.46 L391.78,92.34 L392.63,92.23 L393.48,92.12 L394.33,92.01 L395.18,91.91 L396.03,91.81 L396.87,91.72 L397.72,91.62 L398.57,91.53 L399.42,91.44 L400.27,91.35 L401.12,91.27 L401.97,91.19 L402.82,91.11 L403.67,91.03 L404.51,90.96 L405.36,90.88 L406.21,90.81 L407.06,90.74 L407.91,90.68 L409.18,90.72 L410.45,90.76 L411.72,90.80 L413.00,90.83 L414.27,90.86 L415.54,90.88 L416.81,90.91 L418.08,90.93 L419.35,90.95 L420.62,90.97 L421.90,90.99 L423.17,91.00 L424.44,91.02 L425.71,91.03 L426.98,91.05 L428.25,91.06 L429.52,91.07 L430.80,91.08 L432.07,91.10 L433.34,91.11 L434.61,91.12 L435.88,91.13 L437.15,91.14 L438.42,91.15 L439.70,91.16 L440.97,91.17 L442.24,91.18 L443.51,91.19 L444.78,91.19 L446.05,91.20 L447.32,91.21 L448.60,91.22 L449.87,91.23 L451.14,91.23 L452.41,91.24 L453.68,91.25 L454.95,91.26 L456.22,91.26 L457.49,91.27 L458.77,91.28 L460.04,91.28 L461.31,91.29 L462.58,91.30 L463.85,91.30 L465.12,91.31 L466.39,91.31 L467.67,91.32 L468.94,91.33 L470.21,91.33 L471.48,91.34 L472.75,91.34 L474.02,91.35 L475.29,91.35 L476.57,91.36 L477.84,91.36 L479.11,91.37 L480.38,91.37 L481.65,91.38 L482.92,91.38 L484.19,91.39 L485.47,91.39 L486.74,91.39 L488.01,91.40 L489.28,91.40 L490.55,91.41 L491.82,91.41 L493.09,91.41 L494.37,91.42 L495.64,91.42 L496.91,91.43" fill="none" stroke="#9893ab" stroke-width="1.1" stroke-linejoin="round"/>
<path d="M331.51,125.70 L331.51,125.70 L332.36,124.63 L333.20,123.69 L334.05,122.85 L334.90,122.09 L335.75,121.40 L336.60,120.76 L337.45,120.17 L338.30,119.61 L339.15,119.09 L340.00,118.59 L340.85,118.12 L341.69,117.67 L342.54,117.24 L343.39,116.82 L344.24,116.42 L345.09,116.03 L345.94,115.66 L346.79,115.29 L347.64,114.94 L348.49,114.60 L349.33,114.27 L350.18,113.95 L351.03,113.63 L351.88,113.33 L352.73,113.03 L353.58,112.74 L354.43,112.46 L355.28,112.19 L356.13,111.92 L356.97,111.66 L357.82,111.41 L358.67,111.16 L359.52,110.92 L360.37,110.69 L361.22,110.46 L362.07,110.24 L362.92,110.03 L363.77,109.82 L364.62,109.61 L365.46,109.41 L366.31,109.22 L367.16,109.03 L368.01,108.85 L368.86,108.67 L369.71,108.49 L370.56,108.32 L371.41,108.16 L372.26,108.00 L373.10,107.84 L373.95,107.69 L374.80,107.54 L375.65,107.39 L376.50,107.25 L377.35,107.11 L378.20,106.98 L379.05,106.85 L379.90,106.72 L380.74,106.60 L381.59,106.48 L382.44,106.36 L383.29,106.24 L384.14,106.13 L384.99,106.02 L385.84,105.92 L386.69,105.82 L387.54,105.71 L388.39,105.62 L389.23,105.52 L390.08,105.43 L390.93,105.34 L391.78,105.25 L392.63,105.16 L393.48,105.08 L394.33,105.00 L395.18,104.92 L396.03,104.84 L396.87,104.77 L397.72,104.69 L398.57,104.62 L399.42,104.55 L400.27,104.49 L401.12,104.42 L401.97,104.36 L402.82,104.29 L403.67,104.23 L404.51,104.17 L405.36,104.11 L406.21,104.06 L407.06,104.00 L407.91,103.95 L409.18,104.00 L410.45,104.04 L411.72,104.07 L413.00,104.10 L414.27,104.13 L415.54,104.16 L416.81,104.18 L418.08,104.20 L419.35,104.22 L420.62,104.24 L421.90,104.26 L423.17,104.28 L424.44,104.29 L425.71,104.31 L426.98,104.32 L428.25,104.33 L429.52,104.35 L430.80,104.36 L432.07,104.37 L433.34,104.38 L434.61,104.39 L435.88,104.40 L437.15,104.41 L438.42,104.42 L439.70,104.43 L440.97,104.44 L442.24,104.45 L443.51,104.46 L444.78,104.47 L446.05,104.48 L447.32,104.49 L448.60,104.49 L449.87,104.50 L451.14,104.51 L452.41,104.52 L453.68,104.52 L454.95,104.53 L456.22,104.54 L457.49,104.55 L458.77,104.55 L460.04,104.56 L461.31,104.57 L462.58,104.57 L463.85,104.58 L465.12,104.58 L466.39,104.59 L467.67,104.60 L468.94,104.60 L470.21,104.61 L471.48,104.61 L472.75,104.62 L474.02,104.62 L475.29,104.63 L476.57,104.63 L477.84,104.64 L479.11,104.64 L480.38,104.65 L481.65,104.65 L482.92,104.66 L484.19,104.66 L485.47,104.67 L486.74,104.67 L488.01,104.67 L489.28,104.68 L490.55,104.68 L491.82,104.69 L493.09,104.69 L494.37,104.69 L495.64,104.70 L496.91,104.70" fill="none" stroke="#838b8b" stroke-width="1.1" stroke-linejoin="round"/>
<path d="M331.51,125.70 L331.51,125.70 L332.36,125.22 L333.20,124.79 L334.05,124.41 L334.90,124.07 L335.75,123.76 L336.60,123.48 L337.45,123.21 L338.30,122.97 L339.15,122.73 L340.00,122.51 L340.85,122.30 L341.69,122.10 L342.54,121.91 L343.39,121.72 L344.24,121.54 L345.09,121.37 L345.94,121.20 L346.79,121.03 L347.64,120.87 L348.49,120.72 L349.33,120.57 L350.18,120.42 L351.03,120.28 L351.88,120.14 L352.73,120.01 L353.58,119.87 L354.43,119.75 L355.28,119.62 L356.13,119.50 L356.97,119.38 L357.82,119.26 L358.67,119.15 L359.52,119.04 L360.37,118.93 L361.22,118.82 L362.07,118.72 L362.92,118.62 L363.77,118.52 L364.62,118.42 L365.46,118.33 L366.31,118.24 L367.16,118.15 L368.01,118.06 L368.86,117.98 L369.71,117.89 L370.56,117.81 L371.41,117.73 L372.26,117.66 L373.10,117.58 L373.95,117.51 L374.80,117.44 L375.65,117.37 L376.50,117.30 L377.35,117.23 L378.20,117.17 L379.05,117.10 L379.90,117.04 L380.74,116.98 L381.59,116.92 L382.44,116.86 L383.29,116.81 L384.14,116.75 L384.99,116.70 L385.84,116.65 L386.69,116.60 L387.54,116.55 L388.39,116.50 L389.23,116.45 L390.08,116.40 L390.93,116.36 L391.78,116.31 L392.63,116.27 L393.48,116.23 L394.33,116.19 L395.18,116.15 L396.03,116.11 L396.87,116.07 L397.72,116.03 L398.57,116.00 L399.42,115.96 L400.27,115.93 L401.12,115.89 L401.97,115.86 L402.82,115.83 L403.67,115.80 L404.51,115.77 L405.36,115.74 L406.21,115.71 L407.06,115.68 L407.91,115.65 L409.18,115.68 L410.45,115.71 L411.72,115.74 L413.00,115.76 L414.27,115.78 L415.54,115.80 L416.81,115.81 L418.08,115.83 L419.35,115.84 L420.62,115.86 L421.90,115.87 L423.17,115.88 L424.44,115.89 L425.71,115.90 L426.98,115.91 L428.25,115.92 L429.52,115.93 L430.80,115.94 L432.07,115.94 L433.34,115.95 L434.61,115.96 L435.88,115.97 L437.15,115.97 L438.42,115.98 L439.70,115.99 L440.97,115.99 L442.24,116.00 L443.51,116.01 L444.78,116.01 L446.05,116.02 L447.32,116.02 L448.60,116.03 L449.87,116.04 L451.14,116.04 L452.41,116.05 L453.68,116.05 L454.95,116.06 L456.22,116.06 L457.49,116.07 L458.77,116.07 L460.04,116.08 L461.31,116.08 L462.58,116.09 L463.85,116.09 L465.12,116.09 L466.39,116.10 L467.67,116.10 L468.94,116.11 L470.21,116.11 L471.48,116.11 L472.75,116.12 L474.02,116.12 L475.29,116.12 L476.57,116.13 L477.84,116.13 L479.11,116.13 L480.38,116.14 L481.65,116.14 L482.92,116.14 L484.19,116.15 L485.47,116.15 L486.74,116.15 L488.01,116.16 L489.28,116.16 L490.55,116.16 L491.82,116.16 L493.09,116.17 L494.37,116.17 L495.64,116.17 L496.91,116.17" fill="none" stroke="#717b87" stroke-width="1.1" stroke-linejoin="round"/>
<line x1="33.60" y1="195.71" x2="33.60" y2="335.09" stroke="#d4ccdc" stroke-width="1.2"/>
<line x1="33.60" y1="335.09" x2="242.00" y2="335.09" stroke="#d4ccdc" stroke-width="1.2"/>
<text transform="translate(32.10,338.83) scale(0.742,1)" font-size="10.3" text-anchor="end" font-weight="normal" stroke="#000" stroke-width="0.22" fill="#000">-200</text>
<text transform="translate(32.10,325.04) scale(0.742,1)" font-size="10.3" text-anchor="end" font-weight="normal" stroke="#000" stroke-width="0.22" fill="#000">0</text>
<text transform="translate(32.10,311.25) scale(0.742,1)" font-size="10.3" text-anchor="end" font-weight="normal" stroke="#000" stroke-width="0.22" fill="#000">200</text>
<text transform="translate(32.10,297.46) scale(0.742,1)" font-size="10.3" text-anchor="end" font-weight="normal" stroke="#000" stroke-width="0.22" fill="#000">400</text>
<text transform="translate(32.10,283.67) scale(0.742,1)" font-size="10.3" text-anchor="end" font-weight="normal" stroke="#000" stroke-width="0.22" fill="#000">600</text>
<text transform="translate(32.10,269.89) scale(0.742,1)" font-size="10.3" text-anchor="end" font-weight="normal" stroke="#000" stroke-width="0.22" fill="#000">800</text>
<text transform="translate(32.10,256.10) scale(0.742,1)" font-size="10.3" text-anchor="end" font-weight="normal" stroke="#000" stroke-width="0.22" fill="#000">1000</text>
<text transform="translate(32.10,242.31) scale(0.742,1)" font-size="10.3" text-anchor="end" font-weight="normal" stroke="#000" stroke-width="0.22" fill="#000">1200</text>
<text transform="translate(32.10,228.52) scale(0.742,1)" font-size="10.3" text-anchor="end" font-weight="normal" stroke="#000" stroke-width="0.22" fill="#000">1400</text>
<text transform="translate(32.10,214.73) scale(0.742,1)" font-size="10.3" text-anchor="end" font-weight="normal" stroke="#000" stroke-width="0.22" fill="#000">1600</text>
<text transform="translate(32.10,200.95) scale(0.742,1)" font-size="10.3" text-anchor="end" font-weight="normal" stroke="#000" stroke-width="0.22" fill="#000">1800</text>
<text transform="translate(33.60,345.50) scale(0.742,1)" font-size="10.3" text-anchor="middle" font-weight="normal" stroke="#000" stroke-width="0.22" fill="#000">0</text>
<text transform="translate(75.28,345.50) scale(0.742,1)" font-size="10.3" text-anchor="middle" font-weight="normal" stroke="#000" stroke-width="0.22" fill="#000">100</text>
<text transform="translate(116.96,345.50) scale(0.742,1)" font-size="10.3" text-anchor="middle" font-weight="normal" stroke="#000" stroke-width="0.22" fill="#000">200</text>
<text transform="translate(158.64,345.50) scale(0.742,1)" font-size="10.3" text-anchor="middle" font-weight="normal" stroke="#000" stroke-width="0.22" fill="#000">300</text>
<text transform="translate(200.32,345.50) scale(0.742,1)" font-size="10.3" text-anchor="middle" font-weight="normal" stroke="#000" stroke-width="0.22" fill="#000">400</text>
<text transform="translate(242.00,345.50) scale(0.742,1)" font-size="10.3" text-anchor="middle" font-weight="normal" stroke="#000" stroke-width="0.22" fill="#000">500</text>
<text transform="translate(139.80,363.10) scale(0.775,1)" font-size="14.2" text-anchor="middle" font-weight="normal" stroke="#000" stroke-width="0.25" fill="#000">Time (s)</text>
<text transform="translate(9.30,315.20) scale(0.755,1) rotate(-90)" font-size="14.68" text-anchor="start" font-weight="normal" stroke="#000" stroke-width="0.25" fill="#000">Resp. diff. (RU)</text>
<line x1="33.60" y1="321.30" x2="61.65" y2="321.30" stroke="#e4d4ec" stroke-width="1.2"/>
<line x1="61.65" y1="321.30" x2="224.91" y2="321.30" stroke="#c8f0c0" stroke-width="1.4"/>
<path d="M61.65,321.30 L61.65,321.30 L62.48,309.93 L63.31,300.45 L64.14,292.48 L64.97,285.72 L65.80,279.94 L66.63,274.94 L67.46,270.59 L68.29,266.76 L69.12,263.35 L69.95,260.30 L70.78,257.54 L71.61,255.03 L72.44,252.73 L73.27,250.60 L74.10,248.63 L74.93,246.80 L75.76,245.08 L76.59,243.46 L77.42,241.94 L78.25,240.51 L79.08,239.15 L79.91,237.86 L80.74,236.63 L81.57,235.47 L82.40,234.36 L83.23,233.30 L84.06,232.29 L84.89,231.33 L85.72,230.41 L86.55,229.53 L87.38,228.69 L88.21,227.89 L89.04,227.12 L89.87,226.39 L90.70,225.69 L91.53,225.02 L92.36,224.38 L93.19,223.76 L94.02,223.18 L94.85,222.61 L95.68,222.08 L96.51,221.56 L97.34,221.07 L98.17,220.60 L99.00,220.15 L99.83,219.72 L100.66,219.30 L101.49,218.91 L102.32,218.53 L103.15,218.17 L103.98,217.82 L104.81,217.49 L105.64,217.17 L106.46,216.87 L107.29,216.57 L108.12,216.30 L108.95,216.03 L109.78,215.77 L110.61,215.53 L111.44,215.30 L112.27,215.07 L113.10,214.86 L113.93,214.65 L114.76,214.46 L115.59,214.27 L116.42,214.09 L117.25,213.92 L118.08,213.75 L118.91,213.60 L119.74,213.44 L120.57,213.30 L121.40,213.16 L122.23,213.03 L123.06,212.90 L123.89,212.78 L124.72,212.67 L125.55,212.55 L126.38,212.45 L127.21,212.35 L128.04,212.25 L128.87,212.16 L129.70,212.07 L130.53,211.98 L131.36,211.90 L132.19,211.82 L133.02,211.75 L133.85,211.68 L134.68,211.61 L135.51,211.54 L136.34,211.48 L137.61,212.27 L138.87,212.97 L140.14,213.59 L141.40,214.15 L142.67,214.65 L143.93,215.10 L145.20,215.51 L146.46,215.88 L147.73,216.23 L148.99,216.55 L150.26,216.85 L151.52,217.14 L152.79,217.40 L154.06,217.65 L155.32,217.89 L156.59,218.12 L157.85,218.34 L159.12,218.55 L160.38,218.75 L161.65,218.94 L162.91,219.13 L164.18,219.31 L165.44,219.49 L166.71,219.66 L167.97,219.83 L169.24,219.99 L170.50,220.15 L171.77,220.30 L173.03,220.45 L174.30,220.60 L175.57,220.74 L176.83,220.88 L178.10,221.01 L179.36,221.15 L180.63,221.28 L181.89,221.40 L183.16,221.53 L184.42,221.65 L185.69,221.77 L186.95,221.89 L188.22,222.00 L189.48,222.11 L190.75,222.22 L192.01,222.33 L193.28,222.43 L194.54,222.54 L195.81,222.64 L197.07,222.73 L198.34,222.83 L199.61,222.92 L200.87,223.02 L202.14,223.11 L203.40,223.19 L204.67,223.28 L205.93,223.37 L207.20,223.45 L208.46,223.53 L209.73,223.61 L210.99,223.69 L212.26,223.76 L213.52,223.84 L214.79,223.91 L216.05,223.98 L217.32,224.05 L218.58,224.12 L219.85,224.19 L221.12,224.25 L222.38,224.32 L223.65,224.38 L224.91,224.44" fill="none" stroke="#e4cadb" stroke-width="2.8" stroke-linejoin="round"/>
<path d="M61.65,321.30 L61.65,321.30 L62.48,314.33 L63.31,308.35 L64.14,303.17 L64.97,298.62 L65.80,294.61 L66.63,291.01 L67.46,287.78 L68.29,284.83 L69.12,282.12 L69.95,279.62 L70.78,277.30 L71.61,275.12 L72.44,273.08 L73.27,271.15 L74.10,269.32 L74.93,267.58 L75.76,265.92 L76.59,264.34 L77.42,262.82 L78.25,261.37 L79.08,259.98 L79.91,258.65 L80.74,257.36 L81.57,256.13 L82.40,254.94 L83.23,253.79 L84.06,252.69 L84.89,251.63 L85.72,250.61 L86.55,249.62 L87.38,248.67 L88.21,247.75 L89.04,246.87 L89.87,246.01 L90.70,245.19 L91.53,244.40 L92.36,243.63 L93.19,242.90 L94.02,242.18 L94.85,241.50 L95.68,240.83 L96.51,240.20 L97.34,239.58 L98.17,238.98 L99.00,238.41 L99.83,237.86 L100.66,237.32 L101.49,236.81 L102.32,236.31 L103.15,235.83 L103.98,235.37 L104.81,234.92 L105.64,234.49 L106.46,234.07 L107.29,233.67 L108.12,233.29 L108.95,232.91 L109.78,232.55 L110.61,232.20 L111.44,231.87 L112.27,231.55 L113.10,231.23 L113.93,230.93 L114.76,230.64 L115.59,230.36 L116.42,230.09 L117.25,229.83 L118.08,229.58 L118.91,229.34 L119.74,229.10 L120.57,228.88 L121.40,228.66 L122.23,228.45 L123.06,228.25 L123.89,228.05 L124.72,227.86 L125.55,227.68 L126.38,227.50 L127.21,227.33 L128.04,227.17 L128.87,227.01 L129.70,226.86 L130.53,226.71 L131.36,226.57 L132.19,226.43 L133.02,226.30 L133.85,226.17 L134.68,226.05 L135.51,225.93 L136.34,225.82 L137.61,226.32 L138.87,226.76 L140.14,227.16 L141.40,227.51 L142.67,227.82 L143.93,228.11 L145.20,228.37 L146.46,228.61 L147.73,228.83 L148.99,229.03 L150.26,229.22 L151.52,229.40 L152.79,229.57 L154.06,229.73 L155.32,229.88 L156.59,230.02 L157.85,230.16 L159.12,230.29 L160.38,230.42 L161.65,230.54 L162.91,230.66 L164.18,230.78 L165.44,230.89 L166.71,231.00 L167.97,231.10 L169.24,231.20 L170.50,231.30 L171.77,231.40 L173.03,231.50 L174.30,231.59 L175.57,231.68 L176.83,231.77 L178.10,231.85 L179.36,231.94 L180.63,232.02 L181.89,232.10 L183.16,232.18 L184.42,232.26 L185.69,232.33 L186.95,232.41 L188.22,232.48 L189.48,232.55 L190.75,232.62 L192.01,232.69 L193.28,232.75 L194.54,232.82 L195.81,232.88 L197.07,232.94 L198.34,233.00 L199.61,233.06 L200.87,233.12 L202.14,233.18 L203.40,233.23 L204.67,233.29 L205.93,233.34 L207.20,233.39 L208.46,233.45 L209.73,233.50 L210.99,233.55 L212.26,233.59 L213.52,233.64 L214.79,233.69 L216.05,233.73 L217.32,233.78 L218.58,233.82 L219.85,233.86 L221.12,233.90 L222.38,233.94 L223.65,233.98 L224.91,234.02" fill="none" stroke="#a5c2b8" stroke-width="1.6" stroke-linejoin="round"/>
<path d="M61.65,321.30 L61.65,321.30 L62.48,317.84 L63.31,314.90 L64.14,312.37 L64.97,310.18 L65.80,308.25 L66.63,306.53 L67.46,304.99 L68.29,303.59 L69.12,302.31 L69.95,301.13 L70.78,300.03 L71.61,298.99 L72.44,298.02 L73.27,297.10 L74.10,296.22 L74.93,295.38 L75.76,294.58 L76.59,293.80 L77.42,293.06 L78.25,292.34 L79.08,291.65 L79.91,290.97 L80.74,290.32 L81.57,289.69 L82.40,289.08 L83.23,288.49 L84.06,287.91 L84.89,287.35 L85.72,286.81 L86.55,286.28 L87.38,285.77 L88.21,285.27 L89.04,284.79 L89.87,284.32 L90.70,283.86 L91.53,283.41 L92.36,282.98 L93.19,282.56 L94.02,282.15 L94.85,281.75 L95.68,281.37 L96.51,280.99 L97.34,280.63 L98.17,280.27 L99.00,279.92 L99.83,279.59 L100.66,279.26 L101.49,278.94 L102.32,278.63 L103.15,278.33 L103.98,278.04 L104.81,277.76 L105.64,277.48 L106.46,277.21 L107.29,276.95 L108.12,276.69 L108.95,276.45 L109.78,276.21 L110.61,275.97 L111.44,275.74 L112.27,275.52 L113.10,275.31 L113.93,275.10 L114.76,274.89 L115.59,274.70 L116.42,274.50 L117.25,274.32 L118.08,274.13 L118.91,273.96 L119.74,273.78 L120.57,273.62 L121.40,273.45 L122.23,273.30 L123.06,273.14 L123.89,272.99 L124.72,272.85 L125.55,272.70 L126.38,272.57 L127.21,272.43 L128.04,272.30 L128.87,272.18 L129.70,272.05 L130.53,271.93 L131.36,271.82 L132.19,271.70 L133.02,271.59 L133.85,271.48 L134.68,271.38 L135.51,271.28 L136.34,271.18 L137.61,271.22 L138.87,271.26 L140.14,271.29 L141.40,271.32 L142.67,271.35 L143.93,271.37 L145.20,271.39 L146.46,271.41 L147.73,271.43 L148.99,271.45 L150.26,271.47 L151.52,271.48 L152.79,271.50 L154.06,271.51 L155.32,271.52 L156.59,271.53 L157.85,271.55 L159.12,271.56 L160.38,271.57 L161.65,271.58 L162.91,271.59 L164.18,271.60 L165.44,271.61 L166.71,271.62 L167.97,271.62 L169.24,271.63 L170.50,271.64 L171.77,271.65 L173.03,271.66 L174.30,271.67 L175.57,271.67 L176.83,271.68 L178.10,271.69 L179.36,271.69 L180.63,271.70 L181.89,271.71 L183.16,271.72 L184.42,271.72 L185.69,271.73 L186.95,271.73 L188.22,271.74 L189.48,271.75 L190.75,271.75 L192.01,271.76 L193.28,271.76 L194.54,271.77 L195.81,271.77 L197.07,271.78 L198.34,271.78 L199.61,271.79 L200.87,271.79 L202.14,271.80 L203.40,271.80 L204.67,271.81 L205.93,271.81 L207.20,271.82 L208.46,271.82 L209.73,271.83 L210.99,271.83 L212.26,271.83 L213.52,271.84 L214.79,271.84 L216.05,271.85 L217.32,271.85 L218.58,271.85 L219.85,271.86 L221.12,271.86 L222.38,271.86 L223.65,271.87 L224.91,271.87" fill="none" stroke="#b3d5ce" stroke-width="1.6" stroke-linejoin="round"/>
<path d="M61.65,321.30 L61.65,321.30 L62.48,309.41 L63.31,299.50 L64.14,291.18 L64.97,284.11 L65.80,278.07 L66.63,272.85 L67.46,268.30 L68.29,264.29 L69.12,260.73 L69.95,257.54 L70.78,254.66 L71.61,252.03 L72.44,249.63 L73.27,247.41 L74.10,245.35 L74.93,243.43 L75.76,241.63 L76.59,239.95 L77.42,238.36 L78.25,236.86 L79.08,235.43 L79.91,234.09 L80.74,232.81 L81.57,231.59 L82.40,230.43 L83.23,229.32 L84.06,228.27 L84.89,227.26 L85.72,226.30 L86.55,225.38 L87.38,224.51 L88.21,223.67 L89.04,222.87 L89.87,222.10 L90.70,221.37 L91.53,220.67 L92.36,220.00 L93.19,219.36 L94.02,218.74 L94.85,218.15 L95.68,217.59 L96.51,217.05 L97.34,216.54 L98.17,216.05 L99.00,215.57 L99.83,215.12 L100.66,214.69 L101.49,214.28 L102.32,213.88 L103.15,213.50 L103.98,213.14 L104.81,212.79 L105.64,212.46 L106.46,212.14 L107.29,211.84 L108.12,211.55 L108.95,211.27 L109.78,211.00 L110.61,210.75 L111.44,210.50 L112.27,210.27 L113.10,210.05 L113.93,209.83 L114.76,209.63 L115.59,209.43 L116.42,209.24 L117.25,209.06 L118.08,208.89 L118.91,208.73 L119.74,208.57 L120.57,208.42 L121.40,208.27 L122.23,208.14 L123.06,208.00 L123.89,207.88 L124.72,207.76 L125.55,207.64 L126.38,207.53 L127.21,207.42 L128.04,207.32 L128.87,207.22 L129.70,207.13 L130.53,207.04 L131.36,206.96 L132.19,206.87 L133.02,206.80 L133.85,206.72 L134.68,206.65 L135.51,206.58 L136.34,206.51 L137.61,207.29 L138.87,207.98 L140.14,208.58 L141.40,209.13 L142.67,209.61 L143.93,210.06 L145.20,210.46 L146.46,210.83 L147.73,211.17 L148.99,211.48 L150.26,211.78 L151.52,212.05 L152.79,212.31 L154.06,212.56 L155.32,212.79 L156.59,213.01 L157.85,213.23 L159.12,213.43 L160.38,213.63 L161.65,213.82 L162.91,214.00 L164.18,214.18 L165.44,214.35 L166.71,214.52 L167.97,214.68 L169.24,214.84 L170.50,215.00 L171.77,215.15 L173.03,215.29 L174.30,215.44 L175.57,215.58 L176.83,215.71 L178.10,215.85 L179.36,215.98 L180.63,216.11 L181.89,216.23 L183.16,216.35 L184.42,216.47 L185.69,216.59 L186.95,216.70 L188.22,216.81 L189.48,216.92 L190.75,217.03 L192.01,217.13 L193.28,217.24 L194.54,217.34 L195.81,217.44 L197.07,217.53 L198.34,217.63 L199.61,217.72 L200.87,217.81 L202.14,217.90 L203.40,217.98 L204.67,218.07 L205.93,218.15 L207.20,218.23 L208.46,218.31 L209.73,218.39 L210.99,218.46 L212.26,218.54 L213.52,218.61 L214.79,218.68 L216.05,218.75 L217.32,218.82 L218.58,218.89 L219.85,218.95 L221.12,219.02 L222.38,219.08 L223.65,219.14 L224.91,219.20" fill="none" stroke="#9f9aae" stroke-width="1.2" stroke-linejoin="round"/>
<path d="M61.65,321.30 L61.65,321.30 L62.48,316.35 L63.31,312.15 L64.14,308.54 L64.97,305.41 L65.80,302.66 L66.63,300.22 L67.46,298.03 L68.29,296.05 L69.12,294.23 L69.95,292.56 L70.78,290.99 L71.61,289.53 L72.44,288.15 L73.27,286.84 L74.10,285.59 L74.93,284.40 L75.76,283.26 L76.59,282.16 L77.42,281.10 L78.25,280.07 L79.08,279.08 L79.91,278.13 L80.74,277.20 L81.57,276.29 L82.40,275.42 L83.23,274.57 L84.06,273.74 L84.89,272.94 L85.72,272.16 L86.55,271.40 L87.38,270.67 L88.21,269.95 L89.04,269.25 L89.87,268.57 L90.70,267.91 L91.53,267.26 L92.36,266.64 L93.19,266.03 L94.02,265.43 L94.85,264.86 L95.68,264.29 L96.51,263.75 L97.34,263.21 L98.17,262.70 L99.00,262.19 L99.83,261.70 L100.66,261.22 L101.49,260.75 L102.32,260.30 L103.15,259.86 L103.98,259.43 L104.81,259.01 L105.64,258.60 L106.46,258.21 L107.29,257.82 L108.12,257.45 L108.95,257.08 L109.78,256.73 L110.61,256.38 L111.44,256.04 L112.27,255.71 L113.10,255.39 L113.93,255.08 L114.76,254.78 L115.59,254.48 L116.42,254.20 L117.25,253.92 L118.08,253.65 L118.91,253.38 L119.74,253.12 L120.57,252.87 L121.40,252.63 L122.23,252.39 L123.06,252.16 L123.89,251.93 L124.72,251.71 L125.55,251.50 L126.38,251.29 L127.21,251.09 L128.04,250.89 L128.87,250.70 L129.70,250.51 L130.53,250.33 L131.36,250.16 L132.19,249.98 L133.02,249.82 L133.85,249.65 L134.68,249.49 L135.51,249.34 L136.34,249.19 L137.61,249.40 L138.87,249.58 L140.14,249.74 L141.40,249.88 L142.67,250.01 L143.93,250.13 L145.20,250.24 L146.46,250.34 L147.73,250.43 L148.99,250.51 L150.26,250.59 L151.52,250.66 L152.79,250.73 L154.06,250.80 L155.32,250.86 L156.59,250.92 L157.85,250.98 L159.12,251.03 L160.38,251.08 L161.65,251.13 L162.91,251.18 L164.18,251.23 L165.44,251.28 L166.71,251.32 L167.97,251.36 L169.24,251.41 L170.50,251.45 L171.77,251.49 L173.03,251.53 L174.30,251.56 L175.57,251.60 L176.83,251.64 L178.10,251.67 L179.36,251.71 L180.63,251.74 L181.89,251.78 L183.16,251.81 L184.42,251.84 L185.69,251.87 L186.95,251.90 L188.22,251.93 L189.48,251.96 L190.75,251.99 L192.01,252.02 L193.28,252.04 L194.54,252.07 L195.81,252.10 L197.07,252.12 L198.34,252.15 L199.61,252.17 L200.87,252.20 L202.14,252.22 L203.40,252.24 L204.67,252.26 L205.93,252.29 L207.20,252.31 L208.46,252.33 L209.73,252.35 L210.99,252.37 L212.26,252.39 L213.52,252.41 L214.79,252.43 L216.05,252.45 L217.32,252.47 L218.58,252.48 L219.85,252.50 L221.12,252.52 L222.38,252.53 L223.65,252.55 L224.91,252.57" fill="none" stroke="#71717a" stroke-width="1.1" stroke-linejoin="round"/>
<path d="M61.65,321.30 L61.65,321.30 L62.48,318.93 L63.31,316.92 L64.14,315.19 L64.97,313.68 L65.80,312.36 L66.63,311.18 L67.46,310.13 L68.29,309.17 L69.12,308.29 L69.95,307.48 L70.78,306.73 L71.61,306.02 L72.44,305.35 L73.27,304.72 L74.10,304.12 L74.93,303.55 L75.76,302.99 L76.59,302.46 L77.42,301.95 L78.25,301.46 L79.08,300.99 L79.91,300.53 L80.74,300.08 L81.57,299.65 L82.40,299.23 L83.23,298.82 L84.06,298.43 L84.89,298.05 L85.72,297.67 L86.55,297.31 L87.38,296.96 L88.21,296.62 L89.04,296.29 L89.87,295.97 L90.70,295.65 L91.53,295.35 L92.36,295.05 L93.19,294.76 L94.02,294.48 L94.85,294.21 L95.68,293.95 L96.51,293.69 L97.34,293.44 L98.17,293.19 L99.00,292.96 L99.83,292.73 L100.66,292.50 L101.49,292.29 L102.32,292.07 L103.15,291.87 L103.98,291.67 L104.81,291.47 L105.64,291.28 L106.46,291.10 L107.29,290.92 L108.12,290.74 L108.95,290.58 L109.78,290.41 L110.61,290.25 L111.44,290.09 L112.27,289.94 L113.10,289.79 L113.93,289.65 L114.76,289.51 L115.59,289.38 L116.42,289.24 L117.25,289.12 L118.08,288.99 L118.91,288.87 L119.74,288.75 L120.57,288.64 L121.40,288.53 L122.23,288.42 L123.06,288.31 L123.89,288.21 L124.72,288.11 L125.55,288.01 L126.38,287.92 L127.21,287.83 L128.04,287.74 L128.87,287.65 L129.70,287.57 L130.53,287.48 L131.36,287.40 L132.19,287.33 L133.02,287.25 L133.85,287.18 L134.68,287.10 L135.51,287.04 L136.34,286.97 L137.61,286.99 L138.87,287.02 L140.14,287.04 L141.40,287.05 L142.67,287.07 L143.93,287.08 L145.20,287.10 L146.46,287.11 L147.73,287.12 L148.99,287.13 L150.26,287.14 L151.52,287.15 L152.79,287.16 L154.06,287.16 L155.32,287.17 L156.59,287.18 L157.85,287.19 L159.12,287.19 L160.38,287.20 L161.65,287.21 L162.91,287.21 L164.18,287.22 L165.44,287.22 L166.71,287.23 L167.97,287.23 L169.24,287.24 L170.50,287.24 L171.77,287.25 L173.03,287.25 L174.30,287.26 L175.57,287.26 L176.83,287.27 L178.10,287.27 L179.36,287.28 L180.63,287.28 L181.89,287.28 L183.16,287.29 L184.42,287.29 L185.69,287.30 L186.95,287.30 L188.22,287.30 L189.48,287.31 L190.75,287.31 L192.01,287.31 L193.28,287.32 L194.54,287.32 L195.81,287.32 L197.07,287.33 L198.34,287.33 L199.61,287.33 L200.87,287.34 L202.14,287.34 L203.40,287.34 L204.67,287.34 L205.93,287.35 L207.20,287.35 L208.46,287.35 L209.73,287.36 L210.99,287.36 L212.26,287.36 L213.52,287.36 L214.79,287.36 L216.05,287.37 L217.32,287.37 L218.58,287.37 L219.85,287.37 L221.12,287.38 L222.38,287.38 L223.65,287.38 L224.91,287.38" fill="none" stroke="#8a798f" stroke-width="1.1" stroke-linejoin="round"/>
<path d="M61.65,321.30 L61.65,321.30 L62.48,320.33 L63.31,319.47 L64.14,318.70 L64.97,318.00 L65.80,317.36 L66.63,316.78 L67.46,316.23 L68.29,315.72 L69.12,315.24 L69.95,314.79 L70.78,314.36 L71.61,313.94 L72.44,313.55 L73.27,313.16 L74.10,312.79 L74.93,312.44 L75.76,312.09 L76.59,311.76 L77.42,311.44 L78.25,311.12 L79.08,310.82 L79.91,310.52 L80.74,310.23 L81.57,309.95 L82.40,309.68 L83.23,309.41 L84.06,309.15 L84.89,308.90 L85.72,308.66 L86.55,308.42 L87.38,308.18 L88.21,307.96 L89.04,307.74 L89.87,307.52 L90.70,307.31 L91.53,307.11 L92.36,306.91 L93.19,306.71 L94.02,306.52 L94.85,306.34 L95.68,306.16 L96.51,305.98 L97.34,305.81 L98.17,305.65 L99.00,305.49 L99.83,305.33 L100.66,305.17 L101.49,305.02 L102.32,304.88 L103.15,304.74 L103.98,304.60 L104.81,304.46 L105.64,304.33 L106.46,304.20 L107.29,304.08 L108.12,303.96 L108.95,303.84 L109.78,303.72 L110.61,303.61 L111.44,303.50 L112.27,303.39 L113.10,303.29 L113.93,303.19 L114.76,303.09 L115.59,302.99 L116.42,302.90 L117.25,302.81 L118.08,302.72 L118.91,302.63 L119.74,302.54 L120.57,302.46 L121.40,302.38 L122.23,302.30 L123.06,302.23 L123.89,302.15 L124.72,302.08 L125.55,302.01 L126.38,301.94 L127.21,301.87 L128.04,301.81 L128.87,301.74 L129.70,301.68 L130.53,301.62 L131.36,301.56 L132.19,301.50 L133.02,301.45 L133.85,301.39 L134.68,301.34 L135.51,301.29 L136.34,301.24 L137.61,301.24 L138.87,301.25 L140.14,301.25 L141.40,301.25 L142.67,301.26 L143.93,301.26 L145.20,301.26 L146.46,301.26 L147.73,301.26 L148.99,301.27 L150.26,301.27 L151.52,301.27 L152.79,301.27 L154.06,301.27 L155.32,301.27 L156.59,301.27 L157.85,301.27 L159.12,301.28 L160.38,301.28 L161.65,301.28 L162.91,301.28 L164.18,301.28 L165.44,301.28 L166.71,301.28 L167.97,301.28 L169.24,301.28 L170.50,301.28 L171.77,301.29 L173.03,301.29 L174.30,301.29 L175.57,301.29 L176.83,301.29 L178.10,301.29 L179.36,301.29 L180.63,301.29 L181.89,301.29 L183.16,301.29 L184.42,301.29 L185.69,301.29 L186.95,301.29 L188.22,301.29 L189.48,301.30 L190.75,301.30 L192.01,301.30 L193.28,301.30 L194.54,301.30 L195.81,301.30 L197.07,301.30 L198.34,301.30 L199.61,301.30 L200.87,301.30 L202.14,301.30 L203.40,301.30 L204.67,301.30 L205.93,301.30 L207.20,301.30 L208.46,301.30 L209.73,301.30 L210.99,301.30 L212.26,301.30 L213.52,301.30 L214.79,301.30 L216.05,301.30 L217.32,301.31 L218.58,301.31 L219.85,301.31 L221.12,301.31 L222.38,301.31 L223.65,301.31 L224.91,301.31" fill="none" stroke="#767b7b" stroke-width="1.1" stroke-linejoin="round"/>
<path d="M61.65,321.30 L61.65,321.30 L62.48,320.88 L63.31,320.51 L64.14,320.18 L64.97,319.88 L65.80,319.61 L66.63,319.36 L67.46,319.13 L68.29,318.92 L69.12,318.71 L69.95,318.52 L70.78,318.34 L71.61,318.16 L72.44,317.99 L73.27,317.83 L74.10,317.67 L74.93,317.52 L75.76,317.37 L76.59,317.23 L77.42,317.09 L78.25,316.95 L79.08,316.82 L79.91,316.69 L80.74,316.57 L81.57,316.45 L82.40,316.33 L83.23,316.21 L84.06,316.10 L84.89,315.99 L85.72,315.88 L86.55,315.78 L87.38,315.67 L88.21,315.57 L89.04,315.48 L89.87,315.38 L90.70,315.29 L91.53,315.20 L92.36,315.11 L93.19,315.02 L94.02,314.94 L94.85,314.85 L95.68,314.77 L96.51,314.69 L97.34,314.62 L98.17,314.54 L99.00,314.47 L99.83,314.40 L100.66,314.33 L101.49,314.26 L102.32,314.19 L103.15,314.13 L103.98,314.07 L104.81,314.00 L105.64,313.94 L106.46,313.88 L107.29,313.83 L108.12,313.77 L108.95,313.72 L109.78,313.66 L110.61,313.61 L111.44,313.56 L112.27,313.51 L113.10,313.46 L113.93,313.41 L114.76,313.37 L115.59,313.32 L116.42,313.28 L117.25,313.23 L118.08,313.19 L118.91,313.15 L119.74,313.11 L120.57,313.07 L121.40,313.03 L122.23,312.99 L123.06,312.96 L123.89,312.92 L124.72,312.89 L125.55,312.85 L126.38,312.82 L127.21,312.79 L128.04,312.75 L128.87,312.72 L129.70,312.69 L130.53,312.66 L131.36,312.63 L132.19,312.61 L133.02,312.58 L133.85,312.55 L134.68,312.53 L135.51,312.50 L136.34,312.48 L137.61,312.48 L138.87,312.48 L140.14,312.49 L141.40,312.49 L142.67,312.49 L143.93,312.49 L145.20,312.50 L146.46,312.50 L147.73,312.50 L148.99,312.50 L150.26,312.50 L151.52,312.51 L152.79,312.51 L154.06,312.51 L155.32,312.51 L156.59,312.51 L157.85,312.51 L159.12,312.51 L160.38,312.51 L161.65,312.52 L162.91,312.52 L164.18,312.52 L165.44,312.52 L166.71,312.52 L167.97,312.52 L169.24,312.52 L170.50,312.52 L171.77,312.52 L173.03,312.52 L174.30,312.52 L175.57,312.52 L176.83,312.53 L178.10,312.53 L179.36,312.53 L180.63,312.53 L181.89,312.53 L183.16,312.53 L184.42,312.53 L185.69,312.53 L186.95,312.53 L188.22,312.53 L189.48,312.53 L190.75,312.53 L192.01,312.53 L193.28,312.53 L194.54,312.53 L195.81,312.54 L197.07,312.54 L198.34,312.54 L199.61,312.54 L200.87,312.54 L202.14,312.54 L203.40,312.54 L204.67,312.54 L205.93,312.54 L207.20,312.54 L208.46,312.54 L209.73,312.54 L210.99,312.54 L212.26,312.54 L213.52,312.54 L214.79,312.54 L216.05,312.54 L217.32,312.54 L218.58,312.54 L219.85,312.54 L221.12,312.54 L222.38,312.54 L223.65,312.54 L224.91,312.54" fill="none" stroke="#736e7a" stroke-width="1.1" stroke-linejoin="round"/>
<text transform="translate(-0.50,8.30)" font-size="12.3" text-anchor="start" font-weight="bold" stroke="#000" stroke-width="0.4" fill="#000">A</text>
<text transform="translate(265.90,8.30)" font-size="12.3" text-anchor="start" font-weight="bold" stroke="#000" stroke-width="0.4" fill="#000">B</text>
<text transform="translate(-0.60,195.30)" font-size="12.3" text-anchor="start" font-weight="bold" stroke="#000" stroke-width="0.4" fill="#000">C</text>
<text transform="translate(265.60,194.90)" font-size="12.3" text-anchor="start" font-weight="bold" stroke="#000" stroke-width="0.4" fill="#000">D</text>
<line x1="291.3" y1="195.85" x2="291.3" y2="335.00" stroke="#000" stroke-width="1.8"/>
<line x1="290.40000000000003" y1="335.00" x2="497.6" y2="335.00" stroke="#000" stroke-width="1.8"/>
<line x1="287.3" y1="312.00" x2="291.3" y2="312.00" stroke="#000" stroke-width="1.6"/>
<text transform="translate(286.00,315.80) scale(0.880,1)" font-size="8.4" text-anchor="end" font-weight="bold" letter-spacing="1.8" stroke="#000" stroke-width="0.25" fill="#000">40</text>
<line x1="287.3" y1="266.00" x2="291.3" y2="266.00" stroke="#000" stroke-width="1.6"/>
<text transform="translate(286.00,269.80) scale(0.880,1)" font-size="8.4" text-anchor="end" font-weight="bold" letter-spacing="1.8" stroke="#000" stroke-width="0.25" fill="#000">60</text>
<line x1="287.3" y1="220.00" x2="291.3" y2="220.00" stroke="#000" stroke-width="1.6"/>
<text transform="translate(286.00,223.80) scale(0.880,1)" font-size="8.4" text-anchor="end" font-weight="bold" letter-spacing="1.8" stroke="#000" stroke-width="0.25" fill="#000">80</text>
<rect x="301.60" y="303.61" width="48" height="31.39" fill="#000000"/>
<line x1="325.6" y1="303.61" x2="325.6" y2="289.92" stroke="#000" stroke-width="2.3"/>
<line x1="314.00" y1="289.92" x2="337.20" y2="289.92" stroke="#000" stroke-width="2.0"/>
<line x1="325.6" y1="335.00" x2="325.6" y2="339.00" stroke="#000" stroke-width="1.6"/>
<rect x="370.20" y="250.36" width="48" height="84.64" fill="#a3a3a3"/>
<line x1="394.2" y1="250.36" x2="394.2" y2="242.08" stroke="#000" stroke-width="2.3"/>
<line x1="382.60" y1="242.08" x2="405.80" y2="242.08" stroke="#000" stroke-width="2.0"/>
<line x1="394.2" y1="335.00" x2="394.2" y2="339.00" stroke="#000" stroke-width="1.6"/>
<rect x="438.90" y="261.17" width="48" height="73.83" fill="#7f7f7f"/>
<line x1="462.9" y1="261.17" x2="462.9" y2="247.14" stroke="#000" stroke-width="2.3"/>
<line x1="451.30" y1="247.14" x2="474.50" y2="247.14" stroke="#000" stroke-width="2.0"/>
<line x1="462.9" y1="335.00" x2="462.9" y2="339.00" stroke="#000" stroke-width="1.6"/>
<line x1="327.3" y1="198.6" x2="461.7" y2="198.6" stroke="#000" stroke-width="2.2"/>
<line x1="326.3" y1="222.7" x2="390.8" y2="222.7" stroke="#000" stroke-width="2.2"/>
<line x1="396.4" y1="222.7" x2="461.7" y2="222.7" stroke="#000" stroke-width="2.2"/>
<text transform="translate(381.50,193.80) scale(1.200,1)" font-size="6.6" text-anchor="start" font-weight="bold" letter-spacing="0.95" stroke="#000" stroke-width="0.3" fill="#000">p&lt;0.05</text>
<text transform="translate(343.80,217.70) scale(1.200,1)" font-size="6.6" text-anchor="start" font-weight="bold" letter-spacing="0.95" stroke="#000" stroke-width="0.3" fill="#000">p&lt;0.05</text>
<text transform="translate(414.60,217.70) scale(1.200,1)" font-size="6.6" text-anchor="start" font-weight="bold" letter-spacing="0.95" stroke="#000" stroke-width="0.3" fill="#000">p&gt;0.05</text>
<text transform="translate(266.80,287.60) rotate(-90) scale(1.250,1)" font-size="7.3" text-anchor="start" font-weight="bold" letter-spacing="0.85" stroke="#000" stroke-width="0.3" fill="#000">KD (nM)</text>
<text transform="translate(326.10,348.30) rotate(-43)" font-size="8.2" text-anchor="end" font-weight="bold" letter-spacing="1.0" stroke="#000" stroke-width="0.3" fill="#000">Control PLG</text>
<text transform="translate(393.80,349.50) rotate(-44.5)" font-size="8.2" text-anchor="end" font-weight="bold" letter-spacing="1.0" stroke="#000" stroke-width="0.3" fill="#000">T1DM PLG (pre)</text>
<text transform="translate(462.70,349.50) rotate(-43.5)" font-size="8.2" text-anchor="end" font-weight="bold" letter-spacing="1.2" stroke="#000" stroke-width="0.3" fill="#000">T1DM PLG (post)</text>
</svg>
</body></html>
